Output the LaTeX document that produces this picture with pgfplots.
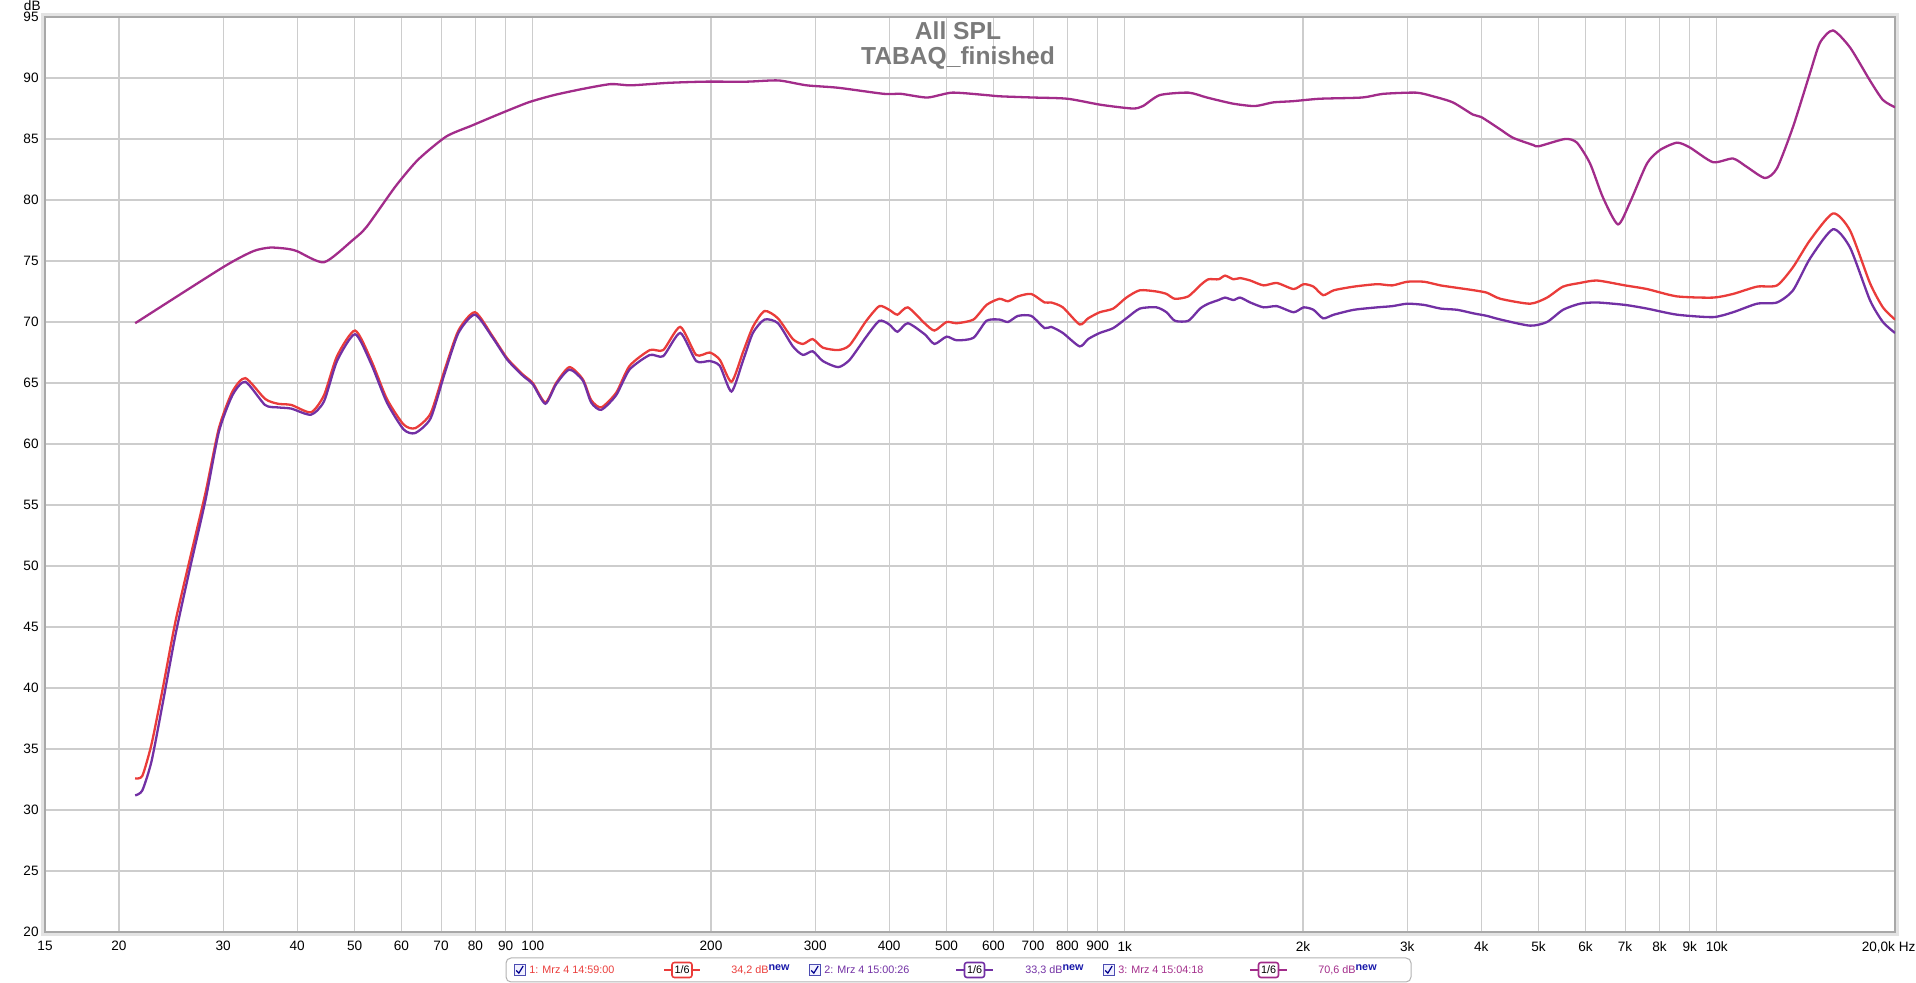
\documentclass[border=0pt]{standalone}
\usepackage{fontspec}
\setmainfont{Liberation Sans}
\usepackage{pgfplots}
\pgfplotsset{compat=1.18}
\definecolor{cred}{RGB}{234,60,58}
\definecolor{cpur}{RGB}{114,48,164}
\definecolor{cmag}{RGB}{162,44,138}
\definecolor{titlegray}{RGB}{122,122,122}
\definecolor{gridgray}{RGB}{205,205,205}
\definecolor{framegray}{RGB}{168,168,168}
\definecolor{newblue}{RGB}{25,25,170}
\newcommand{\tickfont}{\fontsize{6.8}{8}\selectfont}
\newcommand{\legfont}{\fontsize{5.4}{6}\selectfont}
\begin{document}
\begin{tikzpicture}
\begin{axis}[
  scale only axis, width=925pt, height=457.5pt,
  xmode=log, xmin=15, xmax=20000, ymin=20, ymax=95,
  xtick={15,20,30,40,50,60,70,80,90,100,200,300,400,500,600,700,800,900,1000,2000,3000,4000,5000,6000,7000,8000,9000,10000,20000},
  xticklabels={15,20,30,40,50,60,70,80,90,100,200,300,400,500,600,700,800,900,1k,2k,3k,4k,5k,6k,7k,8k,9k,10k,{\llap{20,0k}\rlap{\ Hz}}},
  ytick={20,25,30,35,40,45,50,55,60,65,70,75,80,85,90,95},
  /pgf/number format/assume math mode=true,
  grid=major, major grid style={gridgray, line width=0.55pt},
  tick style={draw=none}, minor tick length=0pt, major tick length=0pt,
  axis line style={draw=framegray, line width=1.3pt},
  ticklabel style={font=\tickfont, text=black},
  xticklabel style={anchor=north, inner sep=0pt, yshift=-4.5pt},
  yticklabel style={anchor=east, inner sep=0pt, xshift=-3pt},
]
\addplot[cred, line width=1.15pt, smooth, tension=0.4] coordinates {
(21.3,32.6)(21.9,32.8)(22.7,35.4)(23.7,39.9)(24.9,45.4)(26.3,50.4)(28.0,56.0)(29.5,61.3)
(31.1,64.3)(32.7,65.4)(35.3,63.7)(37.1,63.3)(39.1,63.2)(42.2,62.6)(44.4,64.0)(46.7,67.2)
(50.1,69.3)(53.3,66.9)(56.7,63.7)(60.5,61.6)(63.3,61.3)(67.2,62.5)(70.9,66.0)(74.9,69.3)
(79.9,70.8)(85.6,68.8)(90.6,67.0)(96.2,65.7)(100,65.0)(105,63.4)(109.5,65.0)(115.3,66.3)
(121.5,65.3)(125.5,63.6)(130.5,63.0)(138.3,64.2)(145.7,66.4)(157.7,67.7)(166.1,67.7)
(177.5,69.6)(188.8,67.3)(199,67.5)(207,66.9)(216.6,65.1)(226.4,67.5)(235.4,69.6)(246.3,70.9)
(259.5,70.3)(275,68.6)(286,68.2)(297,68.6)(309,67.9)(328,67.7)(343,68.1)(366,70.1)(385,71.3)
(400,71.0)(413,70.6)(430,71.2)(459,69.9)(477,69.3)(500,70.0)(520,69.9)(555,70.2)(584,71.4)
(614,71.9)(635,71.7)(660,72.1)(695,72.3)(732,71.6)(751,71.6)(786,71.2)(839,69.8)(867,70.3)
(907,70.8)(956,71.1)(1006,72.0)(1060,72.6)(1131,72.5)(1176,72.3)(1215,71.9)(1280,72.1)
(1340,73.0)(1384,73.5)(1440,73.5)(1477,73.8)(1526,73.5)(1566,73.6)(1629,73.4)(1716,73.0)
(1806,73.2)(1928,72.7)(2005,73.1)(2083,72.9)(2163,72.2)(2255,72.6)(2437,72.9)(2668,73.1)
(2830,73.0)(3000,73.3)(3202,73.3)(3415,73.0)(3643,72.8)(3888,72.6)(4090,72.4)(4311,71.9)
(4837,71.5)(5166,72.0)(5498,72.9)(5873,73.2)(6275,73.4)(7000,73.0)(7623,72.7)(8564,72.1)
(9852,72.0)(10650,72.3)(11694,72.9)(12636,73.0)(13450,74.5)(14367,76.7)(15711,78.9)
(16790,77.5)(18140,73.2)(19080,71.2)(20000,70.2)
};
\addplot[cpur, line width=1.15pt, smooth, tension=0.4] coordinates {
(21.3,31.2)(21.9,31.6)(22.7,34.0)(23.7,38.7)(24.9,44.3)(26.3,49.6)(28.0,55.4)(29.5,61.0)
(31.1,64.0)(32.7,65.1)(35.3,63.2)(37.1,63.0)(39.1,62.9)(42.2,62.4)(44.4,63.5)(46.7,66.8)
(50.1,69.0)(53.3,66.6)(56.7,63.4)(60.5,61.2)(63.3,60.9)(67.2,62.1)(70.9,65.7)(74.9,69.1)
(79.9,70.6)(85.6,68.7)(90.6,66.9)(96.2,65.6)(100,64.9)(105,63.3)(109.5,64.9)(115.3,66.1)
(121.5,65.2)(125.5,63.4)(130.5,62.8)(138.3,64.0)(145.7,66.1)(157.7,67.3)(166.1,67.2)
(177.5,69.1)(188.8,66.8)(199,66.8)(207,66.4)(216.6,64.3)(226.4,66.8)(235.4,69.1)(246.3,70.2)
(259.5,69.9)(275,68.0)(286,67.3)(297,67.6)(309,66.8)(328,66.3)(343,66.9)(366,68.8)(385,70.1)
(400,69.8)(413,69.2)(430,69.9)(459,69.0)(477,68.2)(500,68.8)(520,68.5)(555,68.7)(584,70.1)
(614,70.2)(635,70.0)(660,70.5)(695,70.5)(732,69.5)(751,69.6)(786,69.1)(839,68.0)(867,68.6)
(907,69.1)(956,69.5)(1006,70.3)(1060,71.1)(1131,71.2)(1176,70.8)(1215,70.1)(1280,70.1)
(1340,71.1)(1384,71.5)(1440,71.8)(1477,72.0)(1526,71.8)(1566,72.0)(1629,71.6)(1716,71.2)
(1806,71.3)(1928,70.8)(2005,71.2)(2083,71.0)(2163,70.3)(2255,70.6)(2437,71.0)(2668,71.2)
(2830,71.3)(3000,71.5)(3202,71.4)(3415,71.1)(3643,71.0)(3888,70.7)(4090,70.5)(4311,70.2)
(4837,69.7)(5166,70.0)(5498,71.0)(5873,71.5)(6275,71.6)(7000,71.4)(7623,71.1)(8564,70.6)
(9852,70.4)(10650,70.8)(11694,71.5)(12636,71.6)(13450,72.6)(14367,75.2)(15711,77.6)
(16790,76.1)(18140,71.8)(19080,70.0)(20000,69.1)
};
\addplot[cmag, line width=1.15pt, smooth, tension=0.4] coordinates {
(21.3,69.9)(30,74.5)(33.7,75.8)(36,76.1)(38.5,76.0)(40,75.8)(44.4,74.9)(49.6,76.7)(52.4,77.8)
(58.6,81.1)(64,83.3)(71.4,85.2)(78.9,86.1)(87.3,87.0)(98.3,88.0)(108.6,88.6)(121.3,89.1)
(135.4,89.5)(146.5,89.4)(169,89.6)(195,89.7)(230,89.7)(260,89.8)(290,89.4)(328,89.2)
(392,88.7)(419,88.7)(464,88.4)(511,88.8)(583,88.6)(615,88.5)(700,88.4)(800,88.3)(912,87.8)
(1030,87.5)(1073,87.7)(1146,88.6)(1281,88.8)(1376,88.4)(1523,87.9)(1659,87.7)(1780,88.0)
(1924,88.1)(2136,88.3)(2517,88.4)(2730,88.7)(3105,88.8)(3316,88.5)(3582,88.0)(3873,87.0)
(4000,86.8)(4303,85.8)(4526,85.1)(4900,84.5)(5000,84.4)(5541,85.0)(5803,84.7)(6107,83.0)
(6423,80.2)(6808,78.0)(7134,79.8)(7623,83.0)(8018,84.1)(8564,84.7)(9007,84.3)(9852,83.1)
(10650,83.4)(11247,82.7)(12061,81.8)(12636,82.6)(13450,86.0)(14367,90.4)(14940,92.9)
(15711,93.9)(16790,92.5)(18140,89.8)(19080,88.2)(20000,87.6)
};
\end{axis}
% outer soft frame
\draw[gray!22, line width=1.2pt] (-1.3pt,-1.3pt) rectangle (926.3pt,458.8pt);
% title
\node[anchor=base, inner sep=0pt, text=titlegray, font=\fontsize{12.3}{13}\selectfont\bfseries] at (456.5pt,446.25pt) {All SPL};
\node[anchor=base, inner sep=0pt, text=titlegray, font=\fontsize{12.3}{13}\selectfont\bfseries] at (456.5pt,433.5pt) {TABAQ\_finished};
% unit
\node[anchor=east, inner sep=0pt, font=\tickfont] at (-2pt,463pt) {dB};
% legend
\draw[gray!60, line width=0.5pt, rounded corners=2.5pt] (230.5pt,-13pt) rectangle (683pt,-25pt);
\foreach \x in {234.5,382,529}{
  \draw[fill=blue!6, draw=gray!60!blue, line width=0.35pt] (\x pt,-21.75pt) rectangle ++(5.5pt,5.5pt);
  \draw[blue!55!black, line width=0.6pt] ([shift={(1.1pt,-19.2pt)}]\x pt,0) -- ++(1.3pt,-1.4pt) -- ++(2.2pt,3.6pt);
}
\node[anchor=west, inner sep=0pt, text=cred, font=\legfont] at (242pt,-19pt) {1: Mrz 4 14:59:00};
\node[anchor=west, inner sep=0pt, text=cpur, font=\legfont] at (389.5pt,-19pt) {2: Mrz 4 15:00:26};
\node[anchor=west, inner sep=0pt, text=cmag, font=\legfont] at (536.5pt,-19pt) {3: Mrz 4 15:04:18};
\draw[cred, line width=0.8pt] (309.5pt,-19pt) -- (327.5pt,-19pt);
\node[draw=cred, line width=0.8pt, fill=white, rounded corners=1.2pt, minimum width=10pt, minimum height=7.5pt, inner sep=0pt, font=\legfont] at (318.5pt,-19pt) {1/6};
\draw[cpur, line width=0.8pt] (455.5pt,-19pt) -- (474pt,-19pt);
\node[draw=cpur, line width=0.8pt, fill=white, rounded corners=1.2pt, minimum width=10pt, minimum height=7.5pt, inner sep=0pt, font=\legfont] at (464.75pt,-19pt) {1/6};
\draw[cmag, line width=0.8pt] (602.5pt,-19pt) -- (621pt,-19pt);
\node[draw=cmag, line width=0.8pt, fill=white, rounded corners=1.2pt, minimum width=10pt, minimum height=7.5pt, inner sep=0pt, font=\legfont] at (611.75pt,-19pt) {1/6};
\node[anchor=west, inner sep=0pt, text=cred, font=\legfont] at (343pt,-19pt) {34,2 dB\raisebox{1.3pt}{\textcolor{newblue}{\bfseries new}}};
\node[anchor=west, inner sep=0pt, text=cpur, font=\legfont] at (490pt,-19pt) {33,3 dB\raisebox{1.3pt}{\textcolor{newblue}{\bfseries new}}};
\node[anchor=west, inner sep=0pt, text=cmag, font=\legfont] at (636.5pt,-19pt) {70,6 dB\raisebox{1.3pt}{\textcolor{newblue}{\bfseries new}}};
\pgfresetboundingbox
\useasboundingbox (-22.5pt,-25.5pt) rectangle (935.5pt,466pt);
\end{tikzpicture}
\end{document}
